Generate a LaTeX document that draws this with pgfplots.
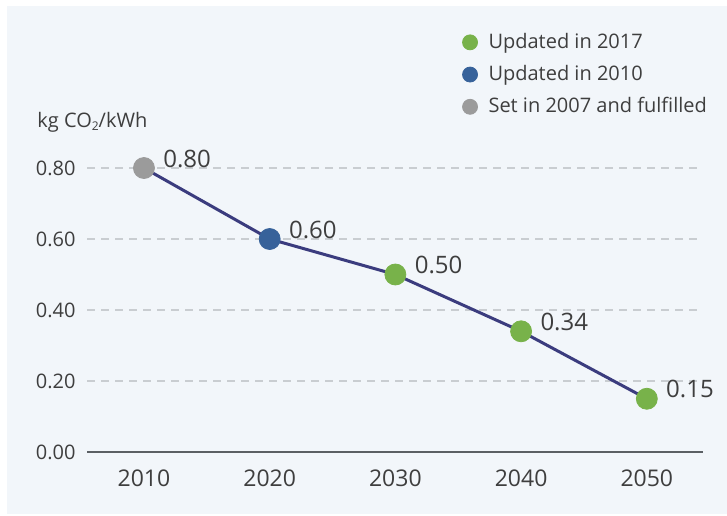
\documentclass[border=0pt]{standalone}
\usepackage{pgfplots}
\pgfplotsset{compat=1.18}
\usepackage{fontspec}
\setmainfont{Open Sans}
\definecolor{bgc}{HTML}{F2F6FA}
\definecolor{linec}{HTML}{3B3C7E}
\definecolor{greenc}{HTML}{78B24A}
\definecolor{bluec}{HTML}{37629A}
\definecolor{grayc}{HTML}{9B9B9B}
\definecolor{gridc}{HTML}{C9CDD1}
\definecolor{axisc}{HTML}{5B6064}
\definecolor{textc}{HTML}{3E3E3E}
\newcommand{\px}{0.5pt}
\pgfplotsset{
  lbl/.style={
    nodes near coords={\pgfmathprintnumber[fixed,fixed zerofill,precision=2,assume math mode=true]{\pgfplotspointmeta}},
    point meta=y,
    every node near coord/.append style={anchor=base west, xshift=9.5pt, yshift=0.5pt, inner sep=0pt, text=textc, font=\fontsize{12pt}{14pt}\selectfont}
  }
}
\begin{document}
\begin{tikzpicture}[font=\fontsize{10pt}{12pt}\selectfont, text=textc]
\useasboundingbox (0,0) rectangle (727*\px,515*\px);
\fill[bgc] (7*\px,1*\px) rectangle (727*\px,509*\px);
\node[anchor=base west, inner sep=0pt] at (37*\px,387*\px) {kg CO\raisebox{-0.25ex}{\fontsize{6pt}{7pt}\selectfont 2}/kWh};
\begin{axis}[
  at={(87*\px,63*\px)}, anchor=south west,
  scale only axis, width=616*\px, height=284*\px,
  xmin=2005.47, xmax=2054.47, ymin=0, ymax=0.8,
  clip=false,
  axis line style={draw=none},
  major tick length=0pt,
  xtick={2010,2020,2030,2040,2050},
  xticklabel={\pgfmathprintnumber[1000 sep={},assume math mode=true]{\tick}},
  xticklabel style={anchor=north, inner sep=0pt, yshift=-8.5pt, text=textc, font=\fontsize{11.5pt}{13pt}\selectfont},
  ytick={0.2,0.4,0.6,0.8},
  extra y ticks={0},
  extra y tick style={grid=major, major grid style={solid, draw=axisc, line width=1.1pt}},
  ymajorgrids,
  major grid style={draw=gridc, line width=0.6pt, dash pattern=on 4pt off 3pt},
  yticklabel={\pgfmathprintnumber[fixed,fixed zerofill,precision=2,assume math mode=true]{\tick}},
  yticklabel style={anchor=east, inner sep=0pt, xshift=-5.5pt, text=textc},
  legend cell align=left,
  legend style={draw=none, fill=none, at={(0.609,1.49)}, anchor=north west, inner sep=0pt, row sep=3pt, column sep=3.5pt, font=\fontsize{10pt}{12pt}\selectfont},
  legend image code/.code={\draw[#1, mark size=3.75pt] plot coordinates {(0pt,0pt)};},
]
\addplot[linec, line width=1.5pt, no marks, forget plot] coordinates {(2010,0.80) (2020,0.60) (2030,0.50) (2040,0.34) (2050,0.15)};
\addplot[only marks, mark=*, mark size=5.25pt, greenc, mark options={draw=greenc, fill=greenc}, lbl]
  coordinates {(2030,0.50) (2040,0.34) (2050,0.15)};
\addlegendentry{Updated in 2017}
\addplot[only marks, mark=*, mark size=5.25pt, bluec, mark options={draw=bluec, fill=bluec}, lbl]
  coordinates {(2020,0.60)};
\addlegendentry{Updated in 2010}
\addplot[only marks, mark=*, mark size=5.25pt, grayc, mark options={draw=grayc, fill=grayc}, lbl]
  coordinates {(2010,0.80)};
\addlegendentry{Set in 2007 and fulfilled}
\end{axis}
\end{tikzpicture}
\end{document}
